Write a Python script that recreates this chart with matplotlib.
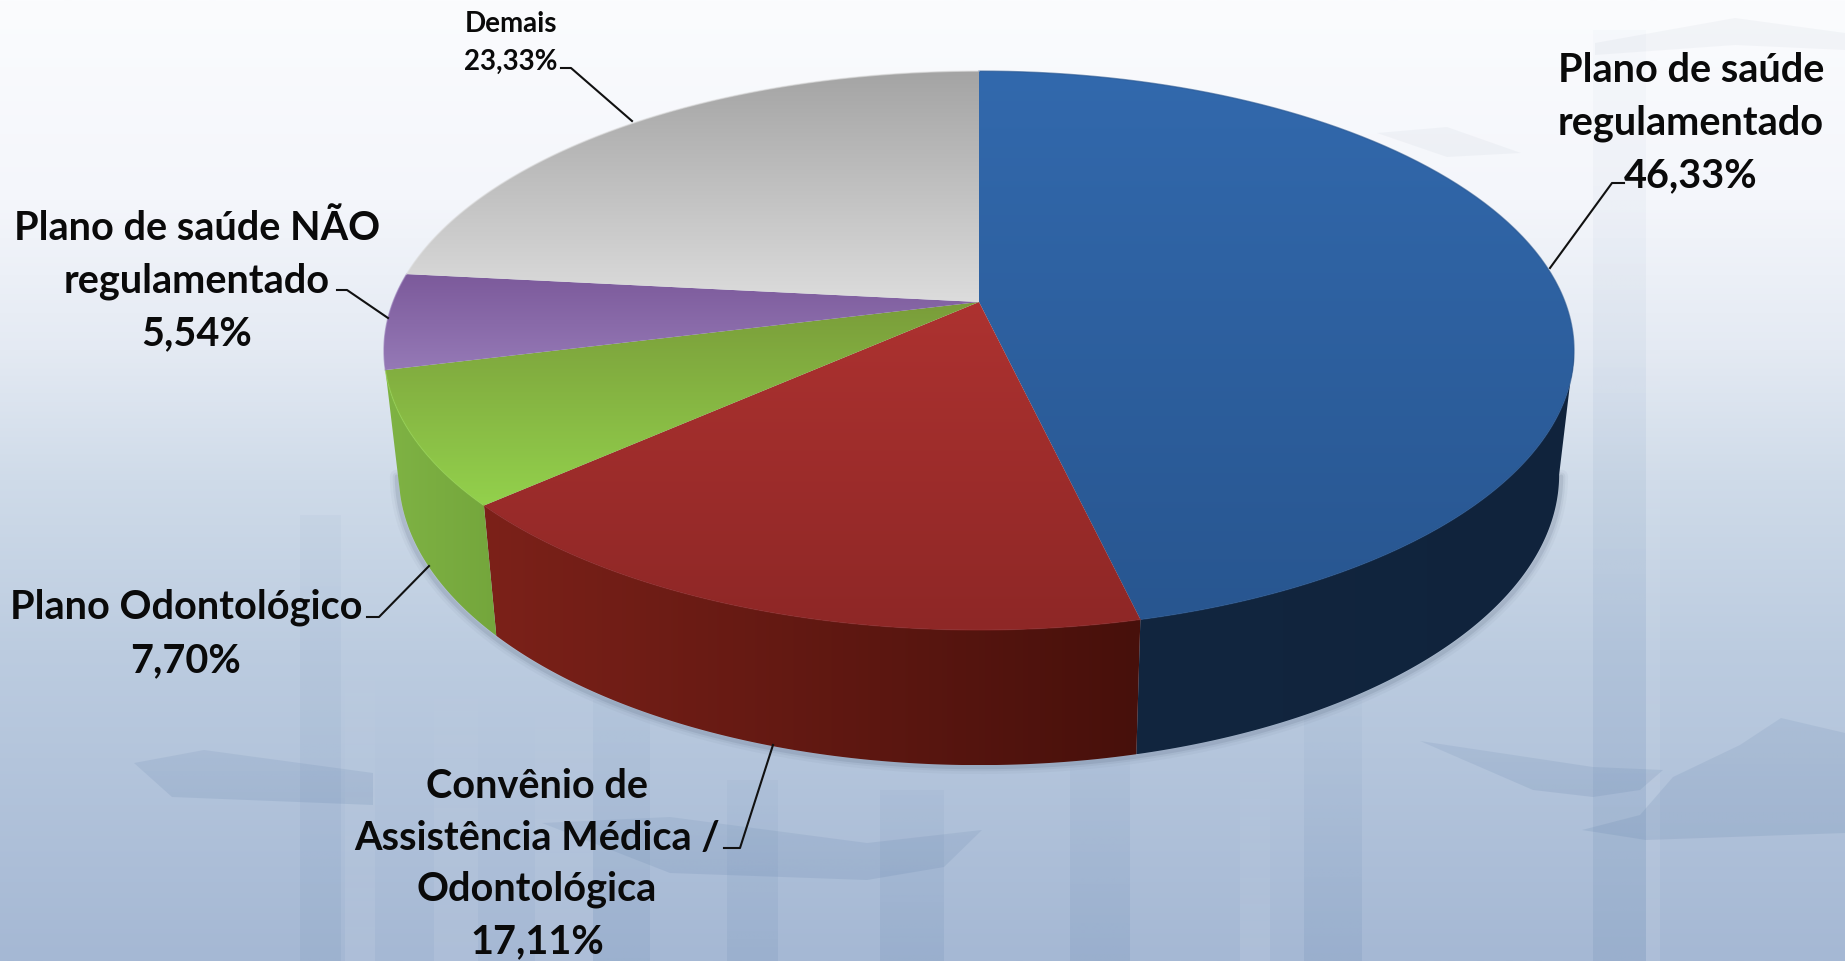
import numpy as np
import matplotlib
matplotlib.use("Agg")
import matplotlib.pyplot as plt
from matplotlib.patches import Polygon
from matplotlib.colors import to_rgb

# ---------- data ----------
categories = ["Plano de saúde\nregulamentado", "Convênio de\nAssistência Médica /\nOdontológica",
              "Plano Odontológico", "Plano de saúde NÃO\nregulamentado", "Demais"]
values = [46.33, 17.11, 7.70, 5.54, 23.33]
value_labels = ["46,33%", "17,11%", "7,70%", "5,54%", "23,33%"]

top_colors = [("#3269ad", "#285690"), ("#ad3230", "#8e2726"), ("#7a9d3a", "#93d14c"),
              ("#7c5a9b", "#9579b6"), ("#a4a4a4", "#dcdcdc")]
wall_colors = [("#12263f", "#10233c"), ("#7c2119", "#47100b"), ("#7fb344", "#74a63c"),
               None, None]

label_centres = [(1691, 123), (537, 864), (186, 634), (197, 281), (511, 43)]
label_sizes = [28.5, 28.5, 28.5, 28.5, 20]
label_spacing = [1.52, 1.48, 1.52, 1.52, 1.55]
leaders = [[(1550, 268), (1612, 183), (1624, 183)],
           [(773, 745), (740, 848), (724, 848)],
           [(429, 566), (379, 617), (367, 617)],
           [(388, 318), (347, 290), (337, 290)],
           [(632, 121), (571, 68), (561, 68)]]

W, H = 1845, 961
CX, CY = 979, 302      # apex of the pie, px
K, AX, AY = 0.1736, 586, 271   # perspective of the tilted disc
SX, SY, TY = 0.975, 1.04, 110  # lower rim from the upper rim


def rim(theta):
    """Upper rim point for clockwise angle from 12 o'clock (radians)."""
    d = 1 + K * np.cos(theta)
    return CX + AX * np.sin(theta) / d, CY - AY * np.cos(theta) / d


def lower(x, y):
    return CX + SX * (x - CX), SY * y + TY


def gradient(ax, poly, c0, c1, horizontal=False, z=2):
    xy = np.asarray(poly)
    x0, x1, y0, y1 = xy[:, 0].min(), xy[:, 0].max(), xy[:, 1].min(), xy[:, 1].max()
    t = np.linspace(0, 1, 128)
    a, b = np.array(to_rgb(c0)), np.array(to_rgb(c1))
    arr = a[None, :] * (1 - t)[:, None] + b[None, :] * t[:, None]
    arr = arr[None, :, :] if horizontal else arr[:, None, :]
    im = ax.imshow(arr, extent=(x0, x1, y1, y0), aspect="auto", zorder=z,
                   interpolation="bilinear")
    clip = Polygon(xy, closed=True, transform=ax.transData, fc="none", ec="none")
    ax.add_patch(clip)
    im.set_clip_path(clip)


fig = plt.figure(figsize=(W / 100, H / 100), dpi=100)
ax = fig.add_axes([0, 0, 1, 1])
ax.axis("off")

# ---------- background ----------
stops_y = np.array([0, 200, 350, 480, 650, 961]) / 961
stops_c = np.array([to_rgb(c) for c in ["#fbfcfe", "#f4f6fb", "#e4eaf3", "#cfdbe9", "#bccce0", "#a5b8d4"]])
yy = np.linspace(0, 1, 512)
bg = np.stack([np.interp(yy, stops_y, stops_c[:, i]) for i in range(3)], axis=1)[:, None, :]
ax.imshow(bg, extent=(0, W, H, 0), aspect="auto", zorder=0, interpolation="bilinear")


def veil(poly, color, a0, a1, z=0.5):
    xy = np.asarray(poly, float)
    x0, x1, y0, y1 = xy[:, 0].min(), xy[:, 0].max(), xy[:, 1].min(), xy[:, 1].max()
    arr = np.zeros((128, 1, 4))
    arr[..., :3] = to_rgb(color)
    arr[:, 0, 3] = np.linspace(a0, a1, 128)
    im = ax.imshow(arr, extent=(x0, x1, y1, y0), aspect="auto", zorder=z, interpolation="bilinear")
    clip = Polygon(xy, closed=True, transform=ax.transData, fc="none", ec="none")
    ax.add_patch(clip)
    im.set_clip_path(clip)


for x0, x1, y0, a0, a1 in [(300, 341, 515, .04, .11), (593, 650, 700, .05, .13), (727, 778, 780, .05, .14),
                           (1070, 1130, 740, .05, .16), (1304, 1362, 700, .04, .16), (880, 944, 790, .06, .16),
                           (1593, 1646, 30, .02, .16)]:
    veil([(x0, y0), (x1, y0), (x1, H), (x0, H)], "#5f82ad", a0, a1)
for x0, x1, y0 in [(345, 375, 660), (434, 478, 680), (535, 593, 700), (1240, 1270, 760), (1646, 1660, 60)]:
    veil([(x0, y0), (x1, y0), (x1, H), (x0, H)], "#ffffff", .01, .10)
arms = [[(134, 763), (204, 750), (373, 773), (373, 805), (172, 797)],
        [(542, 823), (670, 817), (867, 843), (982, 830), (944, 867), (867, 880), (670, 873)],
        [(1420, 741), (1593, 767), (1663, 770), (1640, 790), (1593, 797), (1533, 790)],
        [(1781, 718), (1845, 733), (1845, 833), (1646, 840), (1582, 830), (1640, 815), (1673, 777), (1740, 745)]]
for a in arms:
    veil(a, "#5f7fa8", .13, .17)
for a in [[(1595, 43), (1735, 18), (1845, 33), (1845, 50), (1735, 45), (1595, 55)],
          [(1377, 133), (1447, 127), (1521, 153), (1447, 157)]]:
    veil(a, "#7d8ba5", .06, .06)

# ---------- pie ----------
fractions = np.array(values) / np.sum(values)
edges = 2 * np.pi * np.concatenate([[0], np.cumsum(fractions)])
th_r = np.arccos(-K)
th_l = 2 * np.pi - th_r

# soft shadow under the body
t = np.linspace(th_r, th_l, 300)
lx, ly = lower(*rim(t))
for lw, al in [(10, .04), (6, .06), (3, .10)]:
    ax.plot(lx + np.sign(lx - CX) * 2, ly + 2, color="#33415a", lw=lw, alpha=al, zorder=1.2,
            solid_capstyle="round")

# side wall
for i, wc in enumerate(wall_colors):
    a, b = max(edges[i], th_r), min(edges[i + 1], th_l)
    if wc is None or b <= a:
        continue
    t = np.linspace(a, b, 160)
    ux, uy = rim(t)
    lx, ly = lower(ux, uy)
    poly = np.r_[np.c_[ux, uy], np.c_[lx, ly][::-1]]
    gradient(ax, poly, wc[0], wc[1], horizontal=True, z=2)

# top face
for i, (c0, c1) in enumerate(top_colors):
    t = np.linspace(edges[i], edges[i + 1], 200)
    ux, uy = rim(t)
    poly = np.r_[[[CX, CY]], np.c_[ux, uy]]
    gradient(ax, poly, c0, c1, z=3)
    ax.plot(ux, uy, color=c1, lw=1.0, alpha=.6, zorder=3.5)

# ---------- labels ----------
for name, val, (x, y), fs, ls, pts in zip(categories, value_labels, label_centres, label_sizes, label_spacing, leaders):
    ax.text(x, y, f"{name}\n{val}", ha="center", va="center", fontsize=fs, color="#0a0a0a",
            family="Lato", weight="bold", linespacing=ls, zorder=6)
    p = np.array(pts)
    ax.plot(p[:, 0], p[:, 1], color="#111111", lw=1.5, zorder=5)

ax.set_xlim(0, W)
ax.set_ylim(H, 0)
fig.savefig("out.png", dpi=100)
